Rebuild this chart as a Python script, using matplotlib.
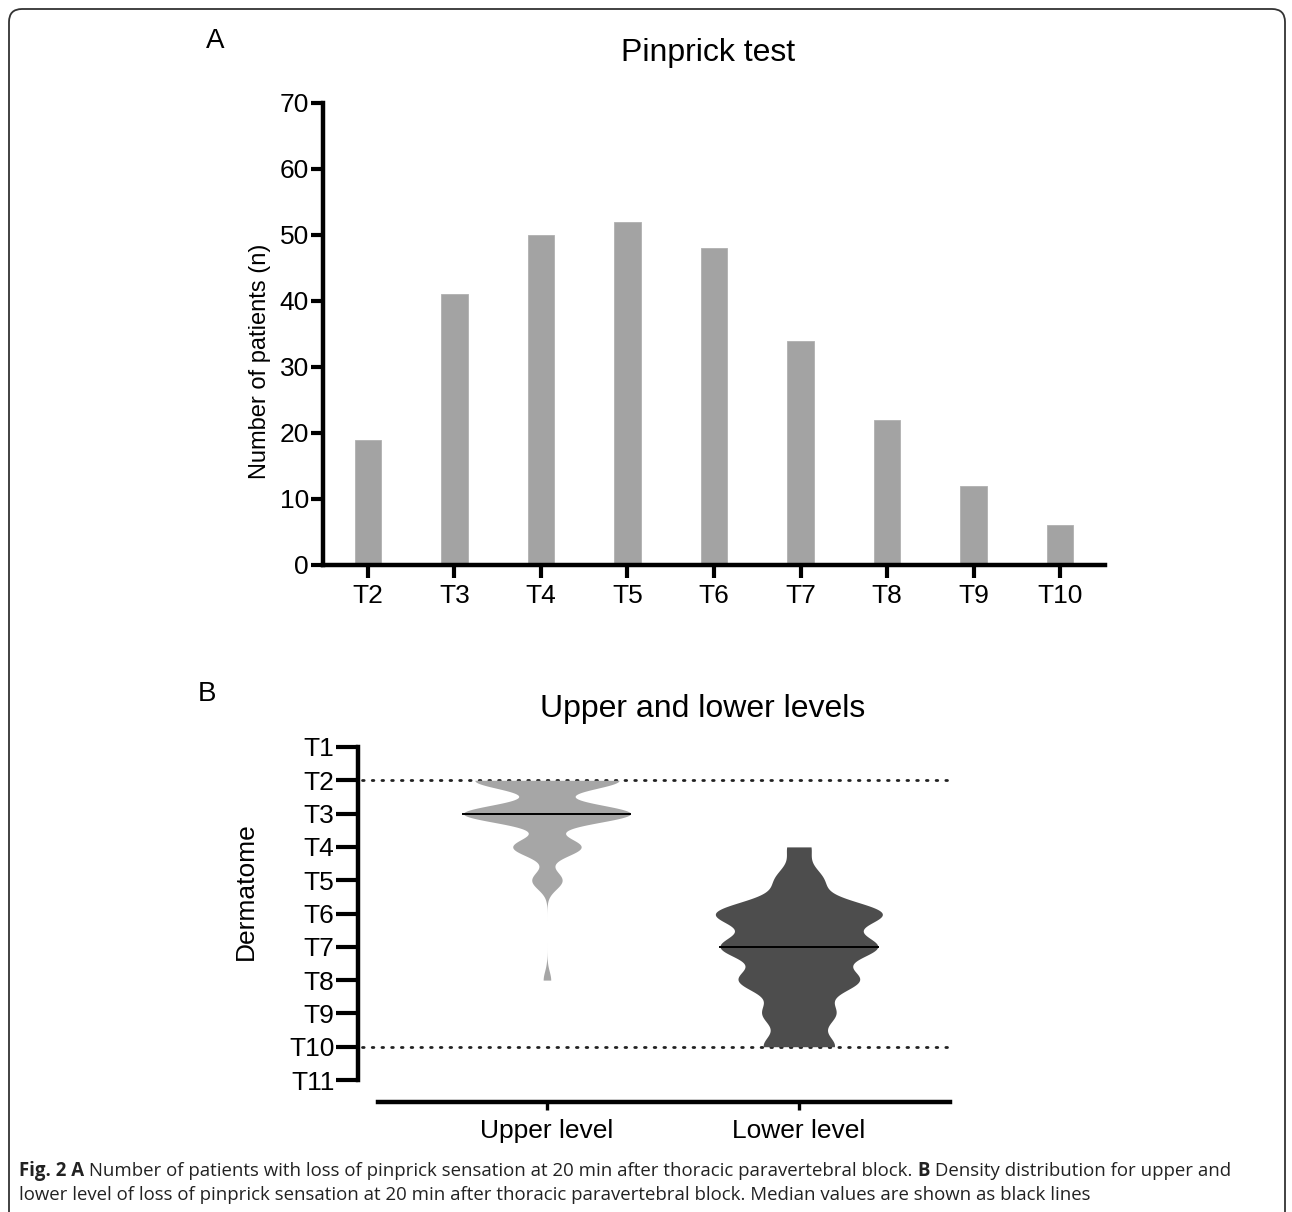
import numpy as np
import matplotlib
matplotlib.use('Agg')
import matplotlib.pyplot as plt
from matplotlib import cbook, mlab
from matplotlib.patches import FancyBboxPatch

plt.rcParams['font.family'] = ['Liberation Sans', 'DejaVu Sans']

# panel A data
dermatomes = ['T2', 'T3', 'T4', 'T5', 'T6', 'T7', 'T8', 'T9', 'T10']
patients = [19, 41, 50, 52, 48, 34, 22, 12, 6]

# panel B data: patients per level (T2..T10) for upper / lower level
levels = [2, 3, 4, 5, 6, 7, 8, 9, 10]
upper_counts = [19, 22, 9, 4, 0, 0, 1, 0, 0]
lower_counts = [0, 0, 2, 4, 14, 13, 10, 6, 6]
groups = ['Upper level', 'Lower level']
group_colors = ['#a6a6a6', '#4d4d4d']
y_labels = ['T%d' % i for i in range(1, 12)]

W, H = 1292, 1212
fig = plt.figure(figsize=(W / 100, H / 100), dpi=100)


def px(x0, y0, x1, y1):
    # pixel box -> figure fraction [left, bottom, width, height]
    return [x0 / W, 1 - y1 / H, (x1 - x0) / W, (y1 - y0) / H]


# border (open at the bottom, runs off the image)
border = FancyBboxPatch((0.09, -0.5), 12.76, 12.53,
                        boxstyle='round,pad=0,rounding_size=0.13',
                        transform=fig.dpi_scale_trans, fill=False,
                        edgecolor='#333333', linewidth=1.3)
fig.patches.append(border)

# ---------- panel A ----------
axA = fig.add_axes(px(323, 103, 1105, 565))
x = np.arange(len(dermatomes))
axA.bar(x, patients, width=0.31, color='#a3a3a3', edgecolor='#b0b0b0', linewidth=0.6)
axA.set_xlim(-0.52, 8.52)
axA.set_ylim(0, 70)
axA.set_yticks(range(0, 71, 10))
axA.set_xticks(x)
axA.set_xticklabels(dermatomes)
for s in ['top', 'right']:
    axA.spines[s].set_visible(False)
for s in ['left', 'bottom']:
    axA.spines[s].set_linewidth(3.2)
    axA.spines[s].set_capstyle('projecting')
axA.tick_params(axis='y', length=9, width=3, pad=1, labelsize=19)
axA.tick_params(axis='x', length=9, width=3, pad=5, labelsize=19)
axA.set_ylabel('Number of patients (n)', fontsize=17)
axA.yaxis.set_label_coords(-0.066, 0.44)
fig.text(708 / W, 1 - 53 / H, 'Pinprick test', fontsize=23, ha='center', va='center')
fig.text(215 / W, 1 - 41 / H, 'A', fontsize=20, ha='center', va='center')

# ---------- panel B ----------
axB = fig.add_axes(px(358, 737, 950, 1102))
data = [np.repeat(levels, upper_counts), np.repeat(levels, lower_counts)]
pos = [1, 2]
widths = 0.663


def kde(X, coords):
    return mlab.GaussianKDE(X, 0.24).evaluate(coords)


stats = cbook.violin_stats(data, kde, points=600)
for st, p, col in zip(stats, pos, group_colors):
    half = st['vals'] / st['vals'].max() * widths / 2
    axB.fill_betweenx(st['coords'], p - half, p + half, color=col, linewidth=0, zorder=2)
    hm = np.interp(st['median'], st['coords'], half)
    axB.plot([p - hm, p + hm], [st['median']] * 2, color='black', linewidth=1.4, zorder=3)

for lv in [2, 10]:
    axB.plot([0.266, 2.59], [lv, lv], color='#222222', linewidth=2,
             linestyle=(0, (0.6, 2.9)), dash_capstyle='round', zorder=1)

axB.set_xlim(0.25, 2.6)
axB.set_ylim(11.66, 0.7)
axB.set_yticks(range(1, 12))
axB.set_yticklabels(y_labels)
axB.set_xticks(pos)
axB.set_xticklabels(groups)
for s in ['top', 'right']:
    axB.spines[s].set_visible(False)
axB.spines['left'].set_bounds(1, 11)
axB.spines['bottom'].set_bounds(0.329, 2.6)
for s in ['left', 'bottom']:
    axB.spines[s].set_linewidth(3.2)
    axB.spines[s].set_capstyle('projecting')
axB.tick_params(axis='y', length=16, width=3, pad=1, labelsize=19)
axB.tick_params(axis='x', length=6, width=2.4, pad=6, labelsize=19)
axB.set_ylabel('Dermatome', fontsize=19)
axB.yaxis.set_label_coords(-0.169, 0.578)
fig.text(703 / W, 1 - 709 / H, 'Upper and lower levels', fontsize=23, ha='center', va='center')
fig.text(207 / W, 1 - 694 / H, 'B', fontsize=20, ha='center', va='center')

# ---------- caption ----------
line1 = [('Fig. 2 A', True), (' Number of patients with loss of pinprick sensation at 20 min after '
         'thoracic paravertebral block. ', False), ('B', True),
         (' Density distribution for upper and', False)]
line2 = [('lower level of loss of pinprick sensation at 20 min after thoracic paravertebral '
          'block. Median values are shown as black lines', False)]

renderer = fig.canvas.get_renderer()
cap_size = 13.4
for parts, ybase in [(line1, 1176), (line2, 1200)]:
    xpos = 19
    for txt, bold in parts:
        t = fig.text(xpos / W, 1 - ybase / H, txt, fontsize=cap_size,
                     family=['Open Sans', 'DejaVu Sans'],
                     fontweight='bold' if bold else 'normal',
                     color='#222222', ha='left', va='baseline')
        bb = t.get_window_extent(renderer)
        xpos += bb.width

fig.savefig('out.png', dpi=100)
